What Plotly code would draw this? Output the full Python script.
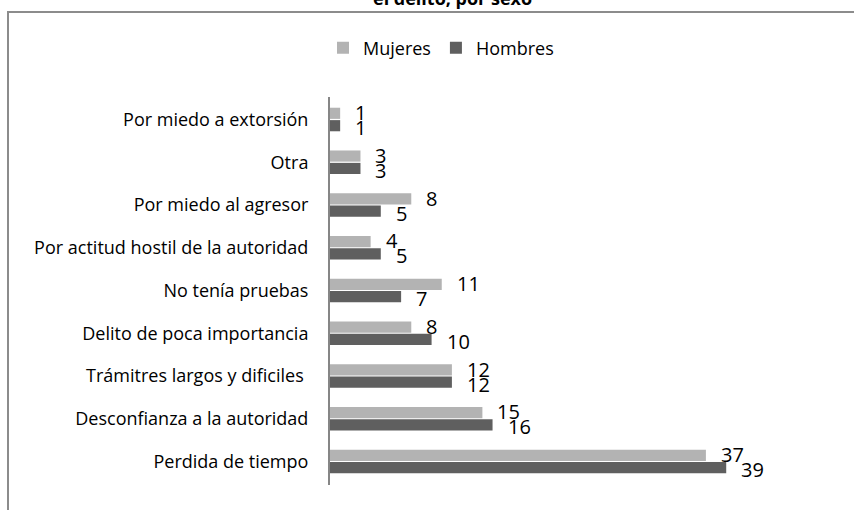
import plotly.graph_objects as go

# categories listed from bottom to top (plotly draws the first category at the bottom)
categorias = ['Perdida de tiempo', 'Desconfianza a la autoridad', 'Trámitres largos y dificiles ',
              'Delito de poca importancia', 'No tenía pruebas', 'Por actitud hostil de la autoridad',
              'Por miedo al agresor', 'Otra', 'Por miedo a extorsión']
mujeres = [37, 15, 12, 8, 11, 4, 8, 3, 1]
hombres = [39, 16, 12, 10, 7, 5, 5, 3, 1]

color_mujeres = '#b3b3b3'
color_hombres = '#5f5f5f'
font_name = 'Open Sans'

# plot area in pixels: x 330..840, y 97..485
L, R, T, B = 330, 840, 97, 485
W, H = R - L, B - T


def px_x(x):
    return (x - L) / W


def px_y(y):
    return (B - y) / H


fig = go.Figure()
fig.add_bar(y=categorias, x=hombres, name='Hombres', orientation='h',
            marker=dict(color=color_hombres, line=dict(width=0)))
fig.add_bar(y=categorias, x=mujeres, name='Mujeres', orientation='h',
            marker=dict(color=color_mujeres, line=dict(width=0)))

# data labels, right of each bar
for vals, shift in ((mujeres, 7), (hombres, -8)):
    for cat, v in zip(categorias, vals):
        fig.add_annotation(x=v, y=cat, text=str(v), showarrow=False,
                           xanchor='left', xshift=13, yshift=shift,
                           font=dict(family=font_name, size=20, color='black'))

# title, cut off at the top as in the source
fig.add_annotation(text='<b>el delito, por sexo</b>', xref='paper', yref='paper',
                   x=px_x(452), y=px_y(12), xanchor='center', yanchor='bottom',
                   showarrow=False, font=dict(family=font_name, size=18, color='black'))

# chart frame (left and top border)
fig.add_shape(type='path', xref='paper', yref='paper',
              path=f'M {px_x(8)},{px_y(530)} L {px_x(8)},{px_y(12)} L {px_x(870)},{px_y(12)}',
              line=dict(color='#8c8c8c', width=2))

fig.update_layout(
    width=854, height=510,
    margin=dict(l=L, r=854 - R, t=T, b=510 - B, autoexpand=False),
    paper_bgcolor='white', plot_bgcolor='white',
    barmode='group', bargap=0.42, bargroupgap=0.1,
    font=dict(family=font_name, size=18, color='black'),
    showlegend=True,
    legend=dict(orientation='h', x=px_x(441), xanchor='center',
                y=px_y(48), yanchor='middle',
                traceorder='reversed', font=dict(size=18), itemwidth=30),
    xaxis=dict(range=[0, 50.2], visible=False, fixedrange=True),
    yaxis=dict(showline=True, linecolor='#868686', linewidth=2, ticks='',
               showgrid=False, ticklabelstandoff=16, automargin=False,
               tickfont=dict(size=18)),
)

fig.write_html("out.html", config={'displayModeBar': False},
               post_script="document.body.style.margin='0px';")
